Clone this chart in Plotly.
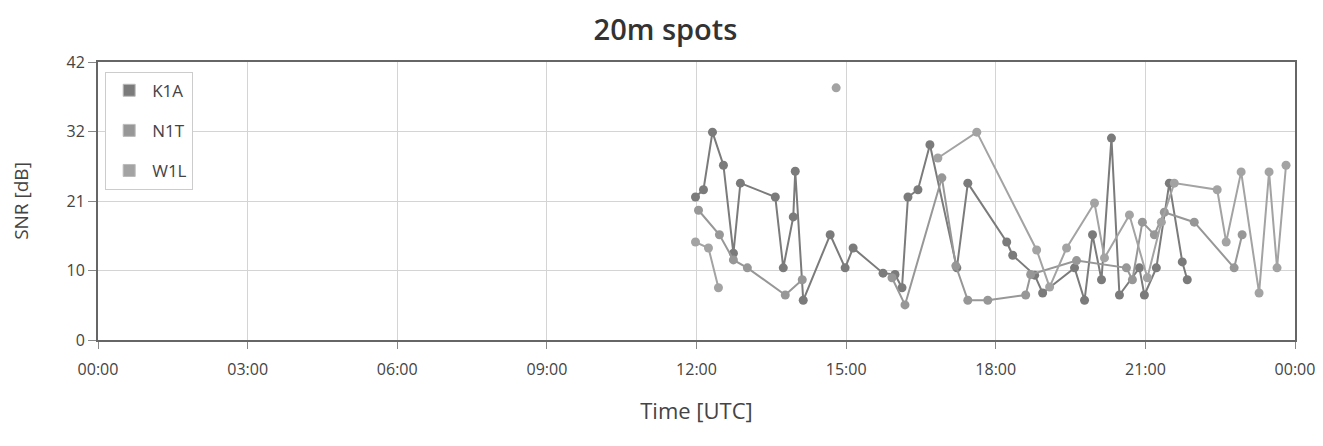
import plotly.graph_objects as go

# ---- data (hours UTC, SNR dB) ----
k1a_hours = [11.98, 12.14, 12.32, 12.54, 12.74, 12.88, 13.58, 13.74, 13.94, 13.98, 14.14, 14.68, 14.98, 15.14,
             15.74, 15.98, 16.12, 16.24, 16.44, 16.68, 17.22, 17.44, 18.22, 18.34, 18.78, 18.94, 19.58, 19.78,
             19.94, 20.12, 20.32, 20.48, 20.88, 20.98, 21.22, 21.48, 21.74, 21.84]
k1a_snr = [21.6, 22.7, 31.4, 26.4, 13.1, 23.7, 21.6, 10.9, 18.6, 25.5, 6.0, 15.9, 10.9, 13.9,
           10.1, 9.9, 7.9, 21.6, 22.7, 29.5, 10.9, 23.7, 14.8, 12.8, 9.8, 7.1, 10.9, 6.0,
           15.9, 9.1, 30.5, 6.8, 10.9, 6.8, 10.9, 23.7, 11.8, 9.1]

n1t_hours = [12.04, 12.46, 12.74, 13.02, 13.78, 14.12, None, 15.92, 16.18, 16.92, 17.20, 17.44, 17.84, 18.60,
             18.70, 19.62, 20.62, 20.74, 20.94, 21.18, 21.38, 21.98, 22.78, 22.94]
n1t_snr = [19.6, 15.9, 12.1, 10.9, 6.8, 9.1, None, 9.4, 5.3, 24.5, 11.2, 6.0, 6.0, 6.8,
           9.9, 12.0, 10.9, 9.1, 17.8, 15.9, 19.3, 17.8, 10.9, 15.9]

w1l_hours = [11.98, 12.24, 12.44, None, 14.80, None, 16.84, 17.62, 18.82, 19.08, 19.42, 19.98, 20.18, 20.68,
             21.04, 21.32, 21.58, 22.44, 22.62, 22.92, 23.28, 23.48, 23.64, 23.82]
w1l_snr = [14.8, 13.9, 7.9, None, 38.1, None, 27.5, 31.4, 13.6, 8.0, 13.9, 20.7, 12.4, 18.9,
           9.4, 17.8, 23.7, 22.7, 14.8, 25.4, 7.1, 25.4, 10.9, 26.4]

x_tick_vals = [0, 3, 6, 9, 12, 15, 18, 21, 24]
x_tick_text = ["00:00", "03:00", "06:00", "09:00", "12:00", "15:00", "18:00", "21:00", "00:00"]
y_tick_vals = [0, 10.5, 21, 31.5, 42]
y_tick_text = ["0", "10", "21", "32", "42"]

series = [
    ("K1A", k1a_hours, k1a_snr, "#7b7b7b"),
    ("N1T", n1t_hours, n1t_snr, "#979797"),
    ("W1L", w1l_hours, w1l_snr, "#a3a3a3"),
]

FONT = "Open Sans"
fig = go.Figure()
for name, xs, ys, col in series:
    fig.add_trace(go.Scatter(
        x=xs, y=ys, mode="lines+markers", name=name, legendgroup=name,
        showlegend=False, connectgaps=False,
        line=dict(color=col, width=2),
        marker=dict(color=col, size=9),
    ))
    # legend swatch (rectangle)
    fig.add_trace(go.Bar(
        x=[None], y=[None], name=name, legendgroup=name, showlegend=True,
        marker=dict(color=col, line=dict(color="#bbbbbb", width=1)),
    ))

# page body has an 8px margin, so the figure is sized/offset to land on the reference pixels
W, H = 1315, 438
fig.update_layout(
    width=W, height=H,
    margin=dict(l=90, r=28, t=54, b=106),
    paper_bgcolor="white", plot_bgcolor="white",
    font=dict(family=FONT, color="#444444", size=15),
    title=dict(text="20m spots", x=0.5, xanchor="center", yref="container", y=1 - 22 / H,
               yanchor="middle",
               font=dict(family=FONT, size=29, color="#333333", weight=600)),
    legend=dict(x=0.006, y=0.965, xanchor="left", yanchor="top",
                bordercolor="#cccccc", borderwidth=1, bgcolor="white",
                font=dict(family=FONT, size=17, color="#444444"),
                tracegroupgap=15, traceorder="grouped", itemwidth=36),
    showlegend=True,
)
fig.update_xaxes(
    range=[0, 24], tickvals=x_tick_vals, ticktext=x_tick_text, automargin=False,
    showgrid=True, gridcolor="#d4d4d4", gridwidth=1,
    showline=True, linecolor="#666666", linewidth=2, mirror=True,
    ticks="outside", ticklen=7, tickcolor="#888888",
    ticklabelstandoff=7, zeroline=False,
    tickfont=dict(family=FONT, size=16, color="#444444"),
    title=dict(text="Time [UTC]", font=dict(family=FONT, size=22, color="#444444"), standoff=24),
)
fig.update_yaxes(
    range=[0, 42], tickvals=y_tick_vals, ticktext=y_tick_text, automargin=False,
    showgrid=True, gridcolor="#d4d4d4", gridwidth=1,
    showline=True, linecolor="#666666", linewidth=2, mirror=True,
    ticks="outside", ticklen=8, tickcolor="#888888", zeroline=False,
    tickfont=dict(family=FONT, size=16, color="#444444"),
    title=dict(text="SNR [dB]", font=dict(family=FONT, size=19, color="#444444"), standoff=34),
)

fig.write_html("out.html")
